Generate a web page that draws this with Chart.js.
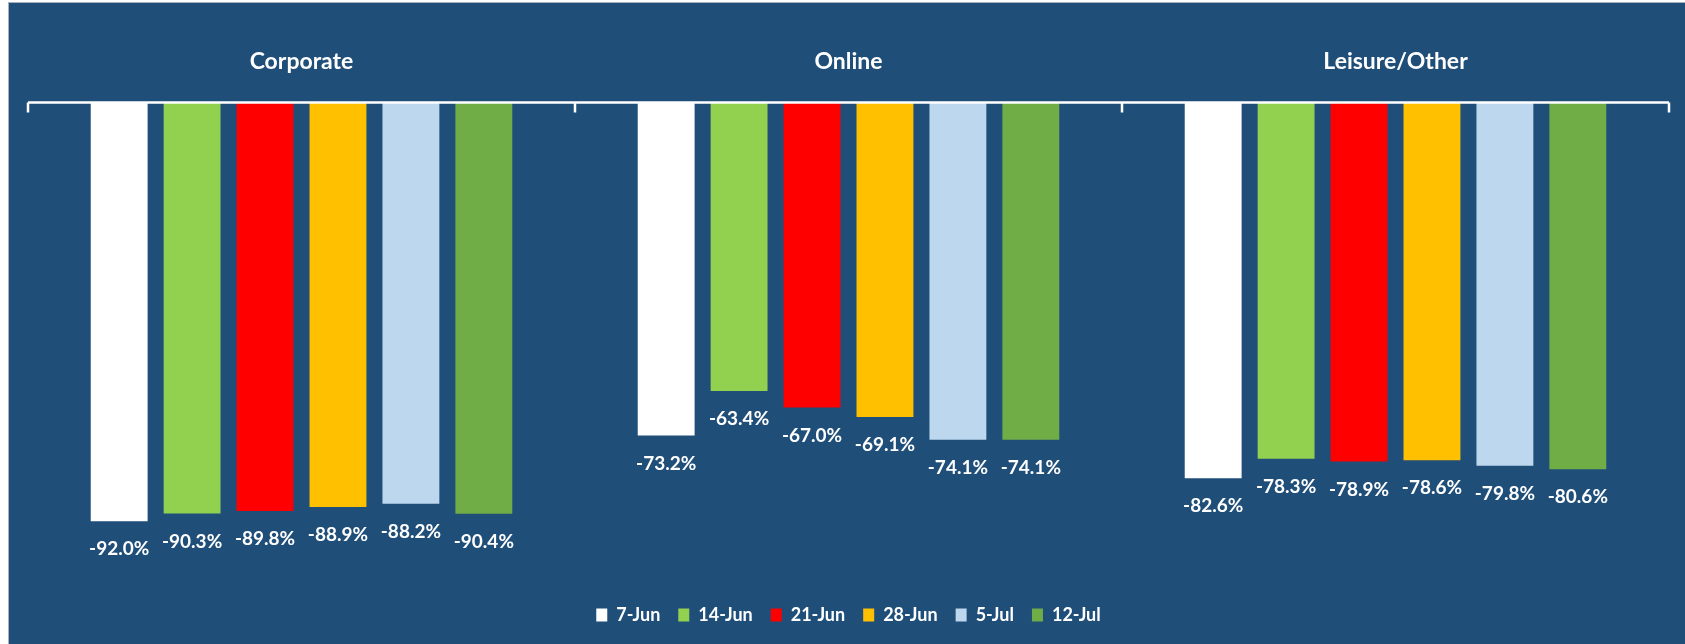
<!DOCTYPE html>
<html>
<head>
<meta charset="utf-8">
<script src="https://cdn.jsdelivr.net/npm/chart.js@4.4.1/dist/chart.umd.min.js"></script>
<style>
    html, body { margin: 0; padding: 0; background: #fff; }
    #wrap {
        position: absolute;
        left: 8px;
        top: 2px;
        width: 1676px;
        height: 641px;
        border-top: 1px solid #a9b1bc;
        border-left: 1px solid #a9b1bc;
        background: #1f4e79;
    }
</style>
</head>
<body>
<div id="wrap"><canvas id="chart" width="1676" height="641"></canvas></div>
<script>
const categories = ['Corporate', 'Online', 'Leisure/Other'];
const weeks = ['7-Jun', '14-Jun', '21-Jun', '28-Jun', '5-Jul', '12-Jul'];

const jun7 = [-92.0, -73.2, -82.6];
const jun14 = [-90.3, -63.4, -78.3];
const jun21 = [-89.8, -67.0, -78.9];
const jun28 = [-88.9, -69.1, -78.6];
const jul5 = [-88.2, -74.1, -79.8];
const jul12 = [-90.4, -74.1, -80.6];

const seriesValues = [jun7, jun14, jun21, jun28, jul5, jul12];
const colors = ['#ffffff', '#92d050', '#ff0000', '#ffc000', '#bdd7ee', '#70ad47'];

// axis line at top with tick marks pointing down
const topAxisPlugin = {
    id: 'topAxis',
    afterDatasetsDraw(chart) {
        const ctx = chart.ctx;
        const x = chart.scales.x;
        const top = chart.chartArea.top;
        const bounds = [x.left];
        for (let i = 0; i < categories.length - 1; i++) {
            bounds.push((x.getPixelForValue(i) + x.getPixelForValue(i + 1)) / 2);
        }
        bounds.push(x.right);
        ctx.save();
        ctx.strokeStyle = '#ffffff';
        ctx.lineWidth = 2.5;
        ctx.beginPath();
        ctx.moveTo(x.left, top);
        ctx.lineTo(x.right, top);
        bounds.forEach(b => {
            ctx.moveTo(b, top);
            ctx.lineTo(b, top + 10);
        });
        ctx.stroke();
        ctx.restore();
    }
};

// value labels under each bar
const barLabelPlugin = {
    id: 'barLabels',
    afterDatasetsDraw(chart) {
        const ctx = chart.ctx;
        ctx.save();
        ctx.fillStyle = '#ffffff';
        ctx.font = 'bold 19px Lato';
        ctx.textAlign = 'center';
        ctx.textBaseline = 'middle';
        chart.data.datasets.forEach((ds, i) => {
            chart.getDatasetMeta(i).data.forEach((bar, j) => {
                ctx.fillText(ds.data[j].toFixed(1) + '%', bar.x, bar.y + 28);
            });
        });
        ctx.restore();
    }
};

new Chart(document.getElementById('chart'), {
    type: 'bar',
    data: {
        labels: categories,
        datasets: weeks.map((w, i) => ({
            label: w,
            data: seriesValues[i],
            backgroundColor: colors[i],
            borderWidth: 0,
            categoryPercentage: 0.8,
            barPercentage: 0.78,
        })),
    },
    options: {
        responsive: false,
        animation: false,
        layout: {
            padding: { top: 18, left: 19, right: 16, bottom: 10 },
        },
        plugins: {
            legend: {
                position: 'bottom',
                labels: {
                    color: '#ffffff',
                    font: { family: 'Lato', weight: 'bold', size: 18 },
                    boxWidth: 11,
                    boxHeight: 13,
                    padding: 18,
                },
            },
            tooltip: { enabled: false },
        },
        scales: {
            x: {
                position: 'top',
                grid: { display: false, drawTicks: false },
                border: { display: false },
                ticks: {
                    color: '#ffffff',
                    font: { family: 'Lato', weight: 'bold', size: 23 },
                    padding: 27,
                },
            },
            y: {
                display: false,
                min: -106.7,
                max: 0,
            },
        },
    },
    plugins: [topAxisPlugin, barLabelPlugin],
});
</script>
</body>
</html>
